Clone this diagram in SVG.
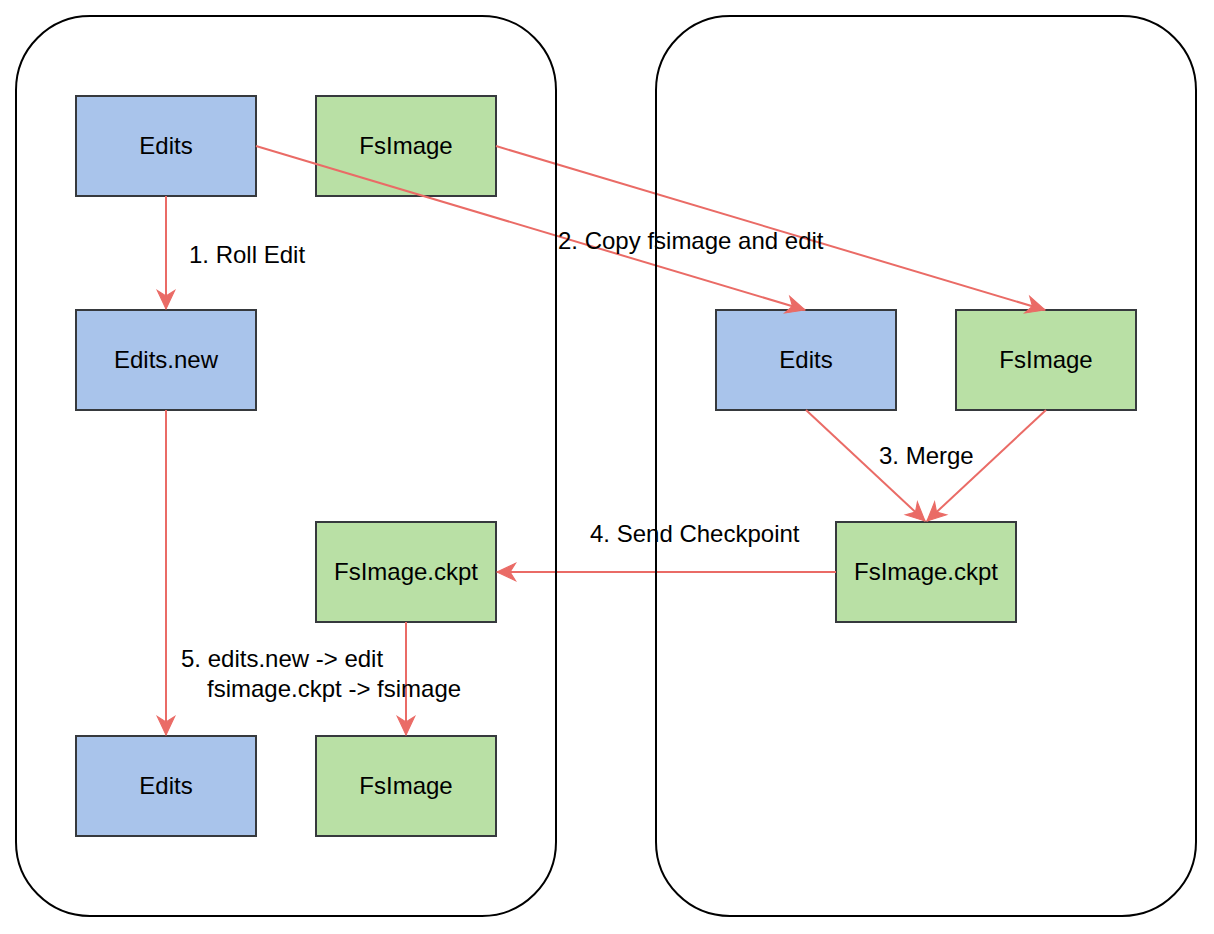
<svg xmlns="http://www.w3.org/2000/svg" width="1214" height="934" viewBox="0 0 1214 934">
<style>
.cont{fill:none;stroke:#000000;stroke-width:2}
.blue{fill:#A9C4EB;stroke:#36393d;stroke-width:2}
.green{fill:#B9E0A5;stroke:#36393d;stroke-width:2}
.t{font-family:"Liberation Sans",Arial,sans-serif;font-size:24px;fill:#000000}
.c{text-anchor:middle}
.e{fill:none;stroke:#EA6B66;stroke-width:2;marker-end:url(#arr)}
</style>
<defs>
<marker id="arr" markerUnits="userSpaceOnUse" markerWidth="24" markerHeight="24" viewBox="-20 -10 22 20" refX="0" refY="0" orient="auto">
<path d="M0,0 L-17,-8 L-12,0 L-17,8 Z" fill="#EA6B66" stroke="#EA6B66" stroke-width="1"/>
</marker>
</defs>
<rect width="1214" height="934" fill="#ffffff"/>
<g id="edits-1"><rect class="blue" x="76" y="96" width="180" height="100"/><text class="t c" x="166" y="154">Edits</text></g>
<g id="fsimage-1"><rect class="green" x="316" y="96" width="180" height="100"/><text class="t c" x="406" y="154">FsImage</text></g>
<g id="edits-new"><rect class="blue" x="76" y="310" width="180" height="100"/><text class="t c" x="166" y="368">Edits.new</text></g>
<g id="fsimage-ckpt-left"><rect class="green" x="316" y="522" width="180" height="100"/><text class="t c" x="406" y="580">FsImage.ckpt</text></g>
<g id="edits-2"><rect class="blue" x="76" y="736" width="180" height="100"/><text class="t c" x="166" y="794">Edits</text></g>
<g id="fsimage-2"><rect class="green" x="316" y="736" width="180" height="100"/><text class="t c" x="406" y="794">FsImage</text></g>
<g id="edits-right"><rect class="blue" x="716" y="310" width="180" height="100"/><text class="t c" x="806" y="368">Edits</text></g>
<g id="fsimage-right"><rect class="green" x="956" y="310" width="180" height="100"/><text class="t c" x="1046" y="368">FsImage</text></g>
<g id="fsimage-ckpt-right"><rect class="green" x="836" y="522" width="180" height="100"/><text class="t c" x="926" y="580">FsImage.ckpt</text></g>
<g id="connectors">
<line class="e" x1="166" y1="196" x2="166" y2="309"/>
<line class="e" x1="256" y1="146" x2="805" y2="310"/>
<line class="e" x1="496" y1="146" x2="1045" y2="310"/>
<line class="e" x1="166" y1="410" x2="166" y2="735"/>
<line class="e" x1="806" y1="410" x2="925" y2="521"/>
<line class="e" x1="1046" y1="410" x2="927" y2="521"/>
<line class="e" x1="836" y1="572" x2="497" y2="572"/>
<line class="e" x1="406" y1="622" x2="406" y2="735"/>
<text class="t" x="189" y="263">1. Roll Edit</text>
<text class="t" x="558" y="249">2. Copy fsimage and edit</text>
<text class="t" x="879" y="464">3. Merge</text>
<text class="t" x="590" y="542">4. Send Checkpoint</text>
<text class="t" x="181" y="667">5. edits.new -&gt; edit</text>
<text class="t" x="207" y="697">fsimage.ckpt -&gt; fsimage</text>
</g>
<g id="container-left"><rect class="cont" x="16" y="16" width="540" height="900" rx="74" ry="74"/></g>
<g id="container-right"><rect class="cont" x="656" y="16" width="540" height="900" rx="74" ry="74"/></g>
</svg>
